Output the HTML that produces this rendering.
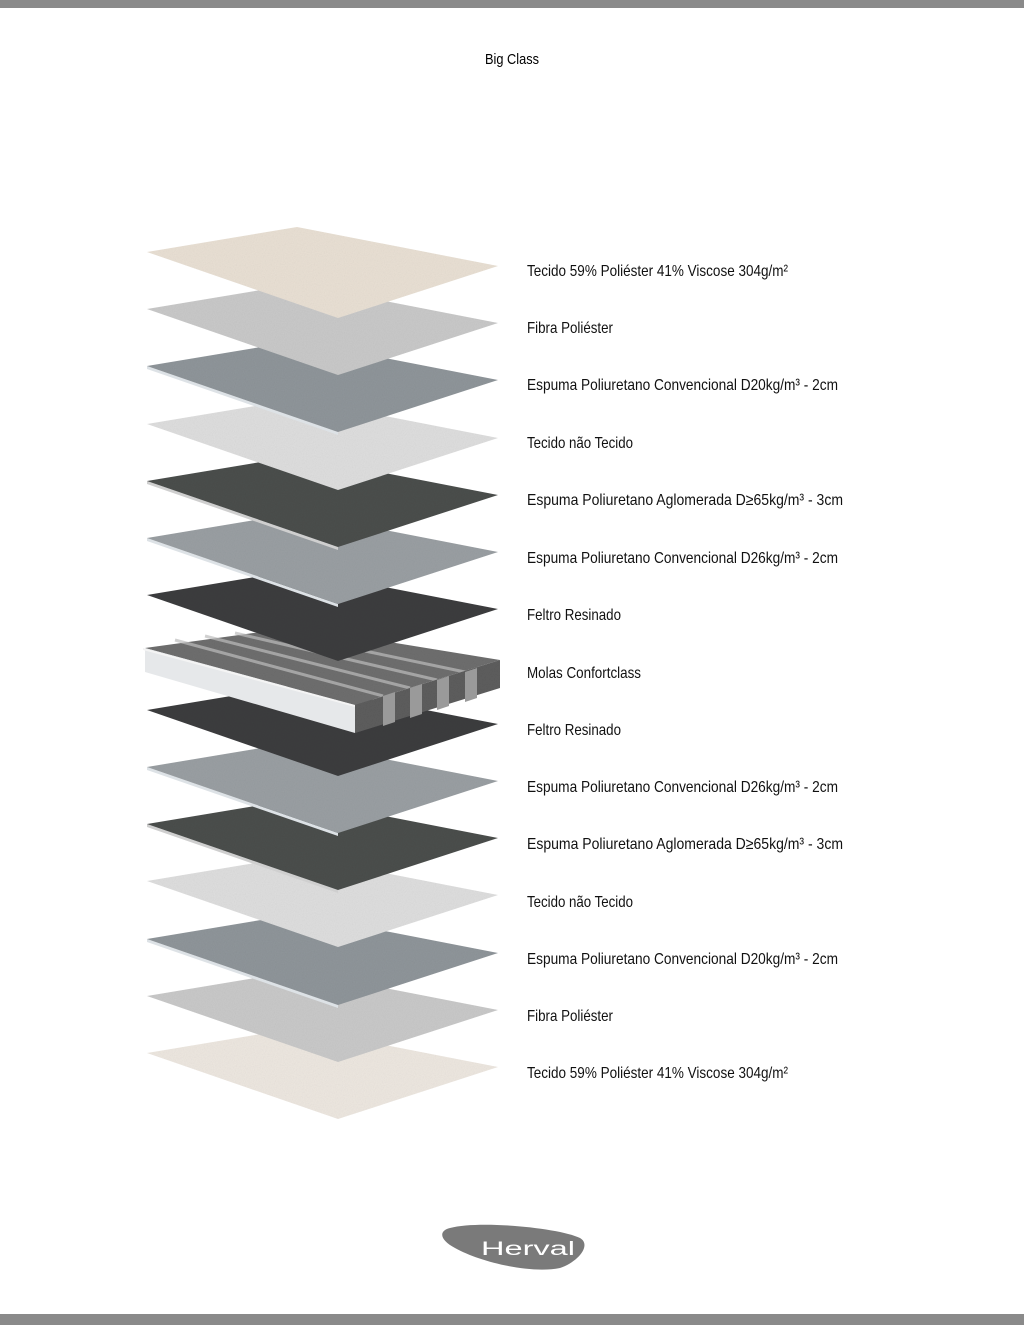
<!DOCTYPE html>
<html><head><meta charset="utf-8"><style>
html,body{margin:0;padding:0;background:#fff;}
svg{display:block;}
</style></head><body>
<svg width="1024" height="1325" viewBox="0 0 1024 1325" xmlns="http://www.w3.org/2000/svg">
<defs>
<filter id="n" x="0" y="0" width="100%" height="100%">
<feTurbulence type="fractalNoise" baseFrequency="0.9" numOctaves="2" result="t"/>
<feColorMatrix type="saturate" values="0"/>
<feComponentTransfer><feFuncA type="linear" slope="0.18"/></feComponentTransfer>
<feComposite in2="SourceGraphic" operator="in"/>
<feBlend in="SourceGraphic" mode="multiply"/>
</filter>
</defs>
<rect x="0" y="0" width="1024" height="8" fill="#8a8a8a"/>
<rect x="0" y="1314" width="1024" height="11" fill="#8a8a8a"/>
<text x="512" y="64" font-family="Liberation Sans, sans-serif" font-size="15" text-anchor="middle" textLength="54" lengthAdjust="spacingAndGlyphs">Big Class</text>

<g id="layers">
<!-- bottom to top -->
<g transform="translate(0,801)"><polygon points="297,227 498,266 338,318 147,252" fill="#ede7e0" filter="url(#n)"/></g>
<g transform="translate(0,744)"><polygon points="297,227 498,266 338,318 147,252" fill="#c9c9c9" filter="url(#n)"/></g>
<g transform="translate(0,687)"><polygon points="147,252 338,318 338,321 147,255" fill="#dde2e6"/><polygon points="297,227 498,266 338,318 147,252" fill="#8f959a" filter="url(#n)"/></g>
<g transform="translate(0,629)"><polygon points="297,227 498,266 338,318 147,252" fill="#dedede" filter="url(#n)"/></g>
<g transform="translate(0,572)"><polygon points="147,252 338,318 338,321 147,255" fill="#cfcfcf"/><polygon points="297,227 498,266 338,318 147,252" fill="#4b4e4c" filter="url(#n)"/></g>
<g transform="translate(0,515)"><polygon points="147,252 338,318 338,321 147,255" fill="#dde2e6"/><polygon points="297,227 498,266 338,318 147,252" fill="#9a9fa3" filter="url(#n)"/></g>
<g transform="translate(0,458)"><polygon points="297,227 498,266 338,318 147,252" fill="#3c3d3f" filter="url(#n)"/></g>
<!-- springs -->
<polygon points="297,627 500,660 355,705 145,648" fill="#6e6e6e" filter="url(#n)"/>
<g stroke="#bdbdbd" stroke-width="3" opacity="0.7">
<line x1="175" y1="640" x2="383" y2="696"/>
<line x1="205" y1="636" x2="410" y2="688"/>
<line x1="235" y1="633" x2="437" y2="680"/>
<line x1="265" y1="630" x2="465" y2="672"/>
</g>
<polygon points="355,705 500,660 500,688 355,733" fill="#5d5d5d" filter="url(#n)"/>
<g fill="#9a9a9a"><polygon points="383,696 395,692 395,722 383,726"/><polygon points="410,688 422,684 422,714 410,718"/><polygon points="437,680 449,676 449,706 437,710"/><polygon points="465,672 477,668 477,698 465,702"/></g>
<polygon points="145,648 355,705 355,733 145,672" fill="#e6e8ea"/>
<polygon points="143,648 355,705 355,707 143,650" fill="#f4f4f4"/>
<g transform="translate(0,343)"><polygon points="297,227 498,266 338,318 147,252" fill="#3c3d3f" filter="url(#n)"/></g>
<g transform="translate(0,286)"><polygon points="147,252 338,318 338,321 147,255" fill="#dde2e6"/><polygon points="297,227 498,266 338,318 147,252" fill="#9a9fa3" filter="url(#n)"/></g>
<g transform="translate(0,229)"><polygon points="147,252 338,318 338,321 147,255" fill="#cfcfcf"/><polygon points="297,227 498,266 338,318 147,252" fill="#4b4e4c" filter="url(#n)"/></g>
<g transform="translate(0,172)"><polygon points="297,227 498,266 338,318 147,252" fill="#dedede" filter="url(#n)"/></g>
<g transform="translate(0,114)"><polygon points="147,252 338,318 338,321 147,255" fill="#dde2e6"/><polygon points="297,227 498,266 338,318 147,252" fill="#8f959a" filter="url(#n)"/></g>
<g transform="translate(0,57)"><polygon points="297,227 498,266 338,318 147,252" fill="#c9c9c9" filter="url(#n)"/></g>
<g><polygon points="297,227 498,266 338,318 147,252" fill="#e9e0d4" filter="url(#n)"/></g>
</g>

<g font-family="Liberation Sans, sans-serif" font-size="16" fill="#111" lengthAdjust="spacingAndGlyphs">
<text x="527" y="276" textLength="261" lengthAdjust="spacingAndGlyphs">Tecido 59% Poliéster 41% Viscose 304g/m²</text>
<text x="527" y="333" textLength="86" lengthAdjust="spacingAndGlyphs">Fibra Poliéster</text>
<text x="527" y="390" textLength="311" lengthAdjust="spacingAndGlyphs">Espuma Poliuretano Convencional D20kg/m³ - 2cm</text>
<text x="527" y="448" textLength="106" lengthAdjust="spacingAndGlyphs">Tecido não Tecido</text>
<text x="527" y="505" textLength="316" lengthAdjust="spacingAndGlyphs">Espuma Poliuretano Aglomerada D≥65kg/m³ - 3cm</text>
<text x="527" y="563" textLength="311" lengthAdjust="spacingAndGlyphs">Espuma Poliuretano Convencional D26kg/m³ - 2cm</text>
<text x="527" y="620" textLength="94" lengthAdjust="spacingAndGlyphs">Feltro Resinado</text>
<text x="527" y="678" textLength="114" lengthAdjust="spacingAndGlyphs">Molas Confortclass</text>
<text x="527" y="735" textLength="94" lengthAdjust="spacingAndGlyphs">Feltro Resinado</text>
<text x="527" y="792" textLength="311" lengthAdjust="spacingAndGlyphs">Espuma Poliuretano Convencional D26kg/m³ - 2cm</text>
<text x="527" y="849" textLength="316" lengthAdjust="spacingAndGlyphs">Espuma Poliuretano Aglomerada D≥65kg/m³ - 3cm</text>
<text x="527" y="907" textLength="106" lengthAdjust="spacingAndGlyphs">Tecido não Tecido</text>
<text x="527" y="964" textLength="311" lengthAdjust="spacingAndGlyphs">Espuma Poliuretano Convencional D20kg/m³ - 2cm</text>
<text x="527" y="1021" textLength="86" lengthAdjust="spacingAndGlyphs">Fibra Poliéster</text>
<text x="527" y="1078" textLength="261" lengthAdjust="spacingAndGlyphs">Tecido 59% Poliéster 41% Viscose 304g/m²</text>
</g>

<path d="M450,1228 C480,1220 560,1228 580,1238 C592,1245 578,1262 560,1268 C530,1274 480,1262 455,1248 C440,1240 438,1231 450,1228 Z" fill="#7a7a7a"/>
<text x="481" y="1255" font-family="Liberation Sans, sans-serif" font-size="19" fill="#fff" textLength="94" lengthAdjust="spacingAndGlyphs">Herval</text>
</svg>
</body></html>
